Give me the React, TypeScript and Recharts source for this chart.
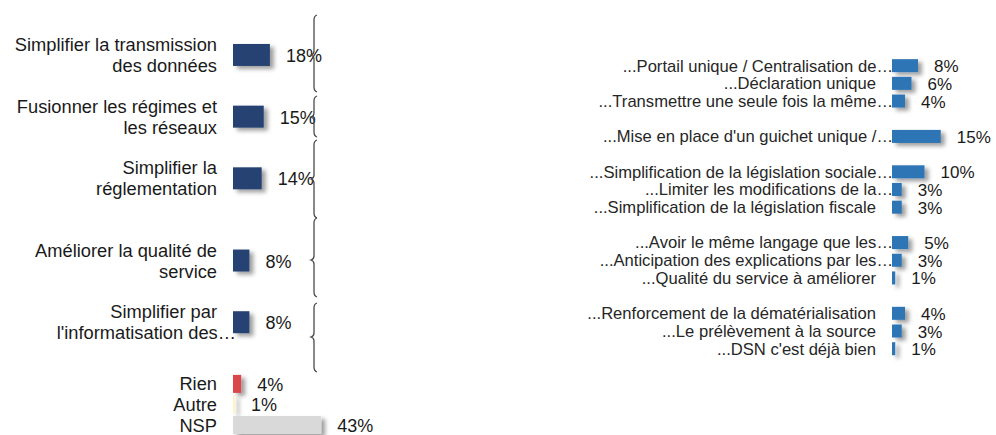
import React from 'react';
import { BarChart, Bar, XAxis, YAxis, LabelList } from 'recharts';

// ---------- DATA ----------
const leftCategories: (string | null)[] = [
  'Simplifier la transmission\ndes données', null, null,
  'Fusionner les régimes et\nles réseaux', null, null,
  'Simplifier la\nréglementation', null, null, null,
  'Améliorer la qualité de\nservice', null, null,
  "Simplifier par\nl'informatisation des…", null, null,
  'Rien', 'Autre', 'NSP',
];
const leftValues: (number | null)[] = [
  18, null, null,
  15, null, null,
  14, null, null, null,
  8, null, null,
  8, null, null,
  4, 1, 43,
];
const leftGroups: (string | null)[] = [
  'theme', null, null,
  'theme', null, null,
  'theme', null, null, null,
  'theme', null, null,
  'theme', null, null,
  'rien', 'autre', 'nsp',
];

const rightCategories: (string | null)[] = [
  '...Portail unique / Centralisation de…',
  '...Déclaration unique',
  '...Transmettre une seule fois la même…',
  null,
  "...Mise en place d'un guichet unique /…",
  null,
  '...Simplification de la législation sociale…',
  '...Limiter les modifications de la…',
  '...Simplification de la législation fiscale',
  null,
  '...Avoir le même langage que les…',
  '...Anticipation des explications par les…',
  '...Qualité du service à améliorer',
  null,
  '...Renforcement de la dématérialisation',
  '...Le prélèvement à la source',
  "...DSN c'est déjà bien",
];
const rightValues: (number | null)[] = [
  8, 6, 4, null, 15, null, 10, 3, 3, null, 5, 3, 1, null, 4, 3, 1,
];

// ---------- STYLES ----------
const FONT = '"Liberation Sans", Arial, sans-serif';
const groupColors: Record<string, string> = {
  theme: '#264372',
  rien: '#D9464B',
  autre: '#FFF4C6',
  nsp: '#D9D9D9',
};
const groupBarSize: Record<string, number> = {
  theme: 22,
  rien: 18,
  autre: 18,
  nsp: 18,
};
const RIGHT_COLOR = '#2E74B5';

// decorative braces (annotation geometry, page pixels)
const BRACE_X = 314;
const braces = [
  { top: 15, bottom: 92, tip: 55 },
  { top: 96, bottom: 137, tip: 117 },
  { top: 140, bottom: 218, tip: 179 },
  { top: 218, bottom: 297, tip: 260 },
  { top: 303, bottom: 372, tip: 337 },
];

const leftData = leftCategories.map((c, i) => ({
  cat: c ?? `__gap${i}`,
  value: leftValues[i],
  group: leftGroups[i],
}));
const rightData = rightCategories.map((c, i) => ({
  cat: c ?? `__gap${i}`,
  value: rightValues[i],
}));

const LeftTick = (props: any) => {
  const { x, y, payload } = props;
  const v: string = payload?.value ?? '';
  if (v.startsWith('__gap')) return <g />;
  const lines = v.split('\n');
  const lh = 21;
  const start = y - ((lines.length - 1) * lh) / 2;
  return (
    <g>
      {lines.map((ln, i) => (
        <text
          key={i}
          x={ln.endsWith('…') ? x + 3 : x - 16}
          y={start + i * lh}
          textAnchor="end"
          dominantBaseline="central"
          fontFamily={FONT}
          fontSize={18.3}
          fill="#1a1a1a"
        >
          {ln}
        </text>
      ))}
    </g>
  );
};

const RightTick = (props: any) => {
  const { x, y, payload } = props;
  const v: string = payload?.value ?? '';
  if (v.startsWith('__gap')) return <g />;
  return (
    <text
      x={v.endsWith('…') ? x + 1 : x - 16}
      y={y}
      textAnchor="end"
      dominantBaseline="central"
      fontFamily={FONT}
      fontSize={16.6}
      fill="#262626"
    >
      {v}
    </text>
  );
};

const LeftBarShape = (props: any) => {
  const { x, y, width, height, payload } = props;
  if (payload?.value == null || !(width > 0)) return <g />;
  const g = payload.group as string;
  const h = groupBarSize[g];
  return (
    <rect
      x={x}
      y={y + (height - h) / 2}
      width={width}
      height={h}
      fill={groupColors[g]}
      filter="url(#barShadow)"
    />
  );
};

const RightBarShape = (props: any) => {
  const { x, y, width, height, payload } = props;
  if (payload?.value == null || !(width > 0)) return <g />;
  return <rect x={x} y={y} width={width} height={height} fill={RIGHT_COLOR} filter="url(#barShadow)" />;
};

const makeValueLabel = (fontSize: number) => (props: any) => {
  const { x, y, width, height, value } = props;
  if (value == null) return <g />;
  return (
    <text
      x={x + width + 16}
      y={y + height / 2 + 1}
      textAnchor="start"
      dominantBaseline="central"
      fontFamily={FONT}
      fontSize={fontSize}
      fill="#1a1a1a"
    >
      {`${value}%`}
    </text>
  );
};

const bracePath = (b: { top: number; bottom: number; tip: number }) => {
  const x = BRACE_X;
  return [
    `M ${x + 3} ${b.top}`,
    `Q ${x} ${b.top + 1} ${x} ${b.top + 5}`,
    `L ${x} ${b.tip - 4}`,
    `Q ${x} ${b.tip - 1} ${x - 3} ${b.tip}`,
    `Q ${x} ${b.tip + 1} ${x} ${b.tip + 4}`,
    `L ${x} ${b.bottom - 5}`,
    `Q ${x} ${b.bottom - 1} ${x + 3} ${b.bottom}`,
  ].join(' ');
};

export default function App() {
  return (
    <div
      style={{
        position: 'fixed',
        left: 0,
        top: 0,
        width: 996,
        height: 435,
        overflow: 'hidden',
        background: '#fff',
      }}
    >
      <svg width={0} height={0} style={{ position: 'absolute' }}>
        <defs>
          <filter
            id="barShadow"
            filterUnits="userSpaceOnUse"
            x={-2000}
            y={-2000}
            width={5000}
            height={5000}
          >
            <feDropShadow dx={4} dy={3} stdDeviation={2.2} floodColor="#000" floodOpacity={0.38} />
          </filter>
        </defs>
      </svg>

      <div style={{ position: 'absolute', left: 0, top: 0 }}>
        <BarChart
          width={400}
          height={440}
          data={leftData}
          layout="vertical"
          margin={{ top: 44.72, right: 64.5, bottom: 4.7, left: 0 }}
        >
          <XAxis type="number" domain={[0, 50]} hide />
          <YAxis
            type="category"
            dataKey="cat"
            width={233}
            axisLine={false}
            tickLine={false}
            tickSize={0}
            tickMargin={0}
            interval={0}
            tick={<LeftTick />}
          />
          <Bar dataKey="value" barSize={22} isAnimationActive={false} shape={<LeftBarShape />}>
            <LabelList dataKey="value" content={makeValueLabel(18)} />
          </Bar>
        </BarChart>
      </div>

      <svg width={996} height={435} style={{ position: 'absolute', left: 0, top: 0, pointerEvents: 'none' }}>
        {braces.map((b, i) => (
          <path key={i} d={bracePath(b)} fill="none" stroke="#4a4a4a" strokeWidth={1.3} />
        ))}
      </svg>

      <div style={{ position: 'absolute', left: 500, top: 0 }}>
        <BarChart
          width={496}
          height={370}
          data={rightData}
          layout="vertical"
          margin={{ top: 57.16, right: 39, bottom: 12.1, left: 0 }}
        >
          <XAxis type="number" domain={[0, 20]} hide />
          <YAxis
            type="category"
            dataKey="cat"
            width={392}
            axisLine={false}
            tickLine={false}
            tickSize={0}
            tickMargin={0}
            interval={0}
            tick={<RightTick />}
          />
          <Bar dataKey="value" barSize={13} isAnimationActive={false} shape={<RightBarShape />}>
            <LabelList dataKey="value" content={makeValueLabel(17)} />
          </Bar>
        </BarChart>
      </div>
    </div>
  );
}
